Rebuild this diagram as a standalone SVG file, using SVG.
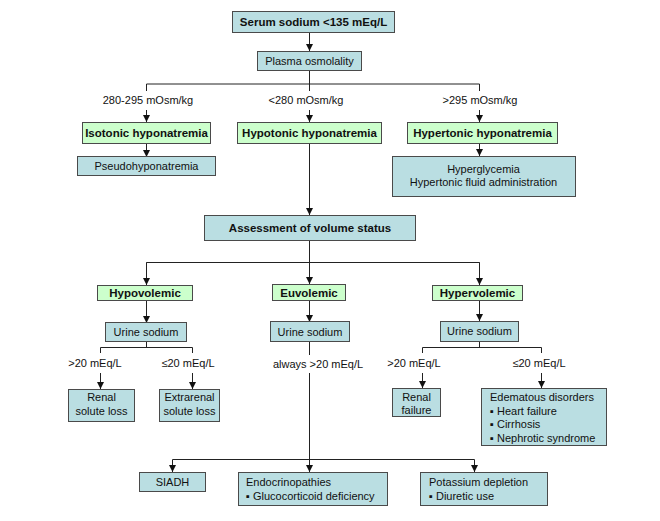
<svg xmlns="http://www.w3.org/2000/svg" width="660" height="521" viewBox="0 0 660 521">
<defs>
<marker id="ah" markerWidth="7" markerHeight="7" refX="7" refY="3.5" orient="auto" markerUnits="userSpaceOnUse">
<path d="M0,0 L7,3.5 L0,7 z" fill="#111"/>
</marker>
<style>
.b{fill:#badee2;stroke:#4a4a4a;stroke-width:1}
.g{fill:#ccffcc;stroke:#4a4a4a;stroke-width:1}
.t{font-family:"Liberation Sans",Arial,sans-serif;font-size:11px;fill:#111}
.m{text-anchor:middle}
.bd{font-weight:bold;font-size:11.5px}
.c{stroke:#222;stroke-width:1;fill:none}
.a{marker-end:url(#ah)}
</style>
</defs>
<rect width="660" height="521" fill="#fff"/>
<g id="connectors">
<line class="c a" x1="309.5" y1="32" x2="309.5" y2="51"/>
<path class="c" d="M309.5,71 V84 M146.5,91 V84 H479.5 V91 M309.5,84 V91"/>
<line class="c a" x1="146.5" y1="110" x2="146.5" y2="122"/>
<line class="c a" x1="309.5" y1="110" x2="309.5" y2="122"/>
<line class="c a" x1="479.5" y1="110" x2="479.5" y2="122"/>
<line class="c a" x1="146.5" y1="143" x2="146.5" y2="157"/>
<line class="c a" x1="479.5" y1="143" x2="479.5" y2="156"/>
<line class="c a" x1="309.5" y1="143" x2="309.5" y2="215"/>
<path class="c" d="M309.5,241 V262.5 M146.5,285 V262.5 H479.5 V285"/>
<line class="c a" x1="146.5" y1="262.5" x2="146.5" y2="285"/>
<line class="c a" x1="309.5" y1="262.5" x2="309.5" y2="284"/>
<line class="c a" x1="479.5" y1="262.5" x2="479.5" y2="285"/>
<line class="c a" x1="146.5" y1="300" x2="146.5" y2="323"/>
<line class="c a" x1="309.5" y1="301" x2="309.5" y2="322"/>
<line class="c a" x1="479.5" y1="301" x2="479.5" y2="321"/>
<path class="c" d="M146.5,342 V347.5 M100.5,353 V347.5 H192.5 V353"/>
<line class="c a" x1="100.5" y1="373" x2="100.5" y2="389"/>
<line class="c a" x1="192.5" y1="373" x2="192.5" y2="389"/>
<path class="c" d="M479.5,341 V347.5 M422.5,353 V347.5 H541.5 V353"/>
<line class="c a" x1="422.5" y1="373" x2="422.5" y2="388"/>
<line class="c a" x1="541.5" y1="373" x2="541.5" y2="388"/>
<path class="c" d="M309.5,342 V355 M309.5,373 V459.5 M172.5,459.5 H474.5"/>
<line class="c a" x1="172.5" y1="459.5" x2="172.5" y2="472"/>
<line class="c a" x1="309.5" y1="459.5" x2="309.5" y2="472"/>
<line class="c a" x1="474.5" y1="459.5" x2="474.5" y2="472"/>
</g>
<g id="labels">
<text class="t m" x="148" y="104">280-295 mOsm/kg</text>
<text class="t m" x="306" y="104">&lt;280 mOsm/kg</text>
<text class="t m" x="480" y="104">&gt;295 mOsm/kg</text>
<text class="t m" x="95" y="367">&gt;20 mEq/L</text>
<text class="t m" x="188" y="367">≤20 mEq/L</text>
<text class="t m" x="318" y="368">always &gt;20 mEq/L</text>
<text class="t m" x="414" y="367">&gt;20 mEq/L</text>
<text class="t m" x="539" y="367">≤20 mEq/L</text>
</g>
<g id="serum"><rect class="b" x="232.5" y="11.5" width="162" height="21"/><text class="t m bd" x="313.5" y="26">Serum sodium &lt;135 mEq/L</text></g>
<g id="plasma"><rect class="b" x="257.5" y="51.5" width="104" height="19"/><text class="t m" x="309.5" y="65">Plasma osmolality</text></g>
<g id="isotonic"><rect class="g" x="82.5" y="122.5" width="128" height="21"/><text class="t m bd" x="146.5" y="137">Isotonic hyponatremia</text></g>
<g id="hypotonic"><rect class="g" x="237.5" y="122.5" width="144" height="21"/><text class="t m bd" x="309.5" y="137">Hypotonic hyponatremia</text></g>
<g id="hypertonic"><rect class="g" x="407.5" y="122.5" width="150" height="21"/><text class="t m bd" x="482.5" y="137">Hypertonic hyponatremia</text></g>
<g id="pseudo"><rect class="b" x="77.5" y="156.5" width="138" height="19"/><text class="t m" x="146.5" y="170">Pseudohyponatremia</text></g>
<g id="hyperglycemia"><rect class="b" x="392.5" y="156.5" width="183" height="40"/><text class="t m" x="483.5" y="173">Hyperglycemia</text><text class="t m" x="483.5" y="186">Hypertonic fluid administration</text></g>
<g id="assessment"><rect class="b" x="204.5" y="215.5" width="211" height="25"/><text class="t m bd" x="310" y="232">Assessment of volume status</text></g>
<g id="hypovolemic"><rect class="g" x="97.5" y="285.5" width="95" height="15"/><text class="t m bd" x="145" y="297">Hypovolemic</text></g>
<g id="euvolemic"><rect class="g" x="272.5" y="284.5" width="73" height="16"/><text class="t m bd" x="309" y="297">Euvolemic</text></g>
<g id="hypervolemic"><rect class="g" x="432.5" y="285.5" width="90" height="15"/><text class="t m bd" x="477.5" y="297">Hypervolemic</text></g>
<g id="urine1"><rect class="b" x="105.5" y="322.5" width="81" height="19"/><text class="t m" x="146" y="336">Urine sodium</text></g>
<g id="urine2"><rect class="b" x="270.5" y="321.5" width="79" height="20"/><text class="t m" x="310" y="336">Urine sodium</text></g>
<g id="urine3"><rect class="b" x="440.5" y="321.5" width="78" height="20"/><text class="t m" x="479.5" y="335">Urine sodium</text></g>
<g id="renal-solute"><rect class="b" x="68.5" y="389.5" width="66" height="32"/><text class="t m" x="101.5" y="401">Renal</text><text class="t m" x="101.5" y="415">solute loss</text></g>
<g id="extrarenal"><rect class="b" x="159.5" y="389.5" width="60" height="32"/><text class="t m" x="189.5" y="401">Extrarenal</text><text class="t m" x="189.5" y="415">solute loss</text></g>
<g id="renal-failure"><rect class="b" x="392.5" y="388.5" width="48" height="28"/><text class="t m" x="416.5" y="401">Renal</text><text class="t m" x="416.5" y="414">failure</text></g>
<g id="edematous"><rect class="b" x="481.5" y="388.5" width="125" height="57"/><text class="t" x="490" y="401">Edematous disorders</text><text class="t" x="490" y="414.5">▪ Heart failure</text><text class="t" x="490" y="428">▪ Cirrhosis</text><text class="t" x="490" y="441.5">▪ Nephrotic syndrome</text></g>
<g id="siadh"><rect class="b" x="139.5" y="472.5" width="66" height="19"/><text class="t m" x="172.5" y="486">SIADH</text></g>
<g id="endocrinopathies"><rect class="b" x="238.5" y="472.5" width="149" height="33"/><text class="t" x="246" y="486">Endocrinopathies</text><text class="t" x="246" y="500">▪ Glucocorticoid deficiency</text></g>
<g id="potassium"><rect class="b" x="420.5" y="472.5" width="127" height="33"/><text class="t" x="429" y="486">Potassium depletion</text><text class="t" x="429" y="500">▪ Diuretic use</text></g>
</svg>
